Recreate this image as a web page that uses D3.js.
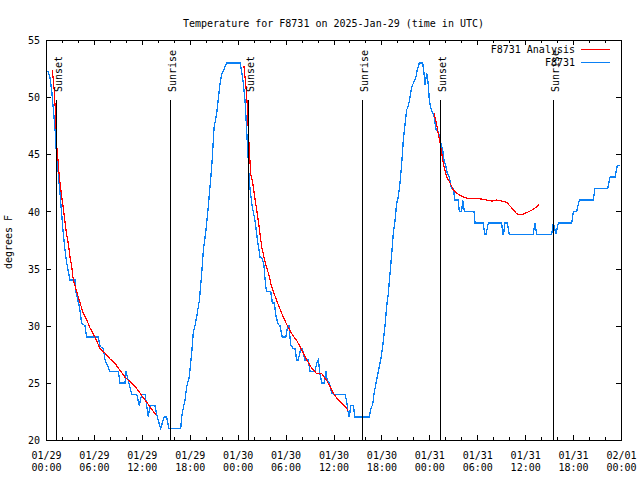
<!DOCTYPE html>
<html><head><meta charset="utf-8">
<script src="https://cdn.jsdelivr.net/npm/d3@7/dist/d3.min.js"></script>
<style>
body{margin:0;background:#fff}
svg{display:block;background:#fff}
text{font-family:"DejaVu Sans Mono",monospace;font-size:10px;fill:#000}
</style></head><body>
<svg id="c" width="640" height="480"></svg>
<script>
// ---------------- data ----------------
const chartTitle = "Temperature for F8731 on 2025-Jan-29 (time in UTC)";
const yAxisTitle = "degrees F";
const seriesNames = ["F8731 Analysis", "F8731"];
const startUTC = Date.UTC(2025, 0, 29, 0, 0);   // hours below are offsets from this
const endUTC = Date.UTC(2025, 1, 1, 0, 0);
const yDomain = [20, 55];
const yTickValues = [20, 25, 30, 35, 40, 45, 50, 55];
const xMajorStepHours = 6;
const xMinorStepHours = 2;

const eventNames = ["Sunset", "Sunrise", "Sunset", "Sunrise", "Sunset", "Sunrise"];
const eventHours = [1.25, 15.53, 25.33, 39.61, 49.34, 63.52];

// observed temperature (F8731)
const obsHours = [0.25,0.50,0.71,1.00,1.13,1.25,1.54,1.75,2.17,2.38,2.59,3.01,3.63,3.72,4.17,4.47,4.88,5.10,6.55,6.76,
7.18,7.39,8.01,9.05,9.27,9.89,10.02,10.31,10.73,11.36,11.68,11.98,12.40,12.81,13.02,13.65,13.94,14.36,14.78,15.11,
15.40,16.87,16.99,17.19,17.41,17.62,17.94,18.24,18.44,18.66,18.87,19.20,19.50,19.70,20.04,20.32,20.54,20.75,20.95,21.04,
21.38,21.58,21.79,22.00,22.20,22.63,24.29,24.51,24.71,24.92,25.04,25.21,25.33,25.46,25.80,26.17,26.48,26.80,27.09,27.30,
27.51,27.64,28.14,28.34,28.59,28.80,29.09,29.30,29.59,30.02,30.27,30.43,30.64,30.97,31.18,31.39,31.59,31.89,32.06,32.22,
32.43,32.85,33.06,33.68,33.90,34.10,34.31,34.52,34.81,35.06,35.22,35.47,35.78,35.98,37.44,37.65,37.78,37.98,38.15,38.48,
38.69,40.48,40.70,40.91,41.07,41.32,41.61,41.91,42.16,42.45,42.66,42.86,43.08,43.29,43.49,43.70,43.91,44.12,44.33,44.54,
44.74,44.95,45.16,45.37,45.58,45.79,45.99,46.33,46.49,46.75,47.17,47.33,47.46,47.67,47.87,48.00,48.21,48.59,48.84,49.12,
49.34,49.67,49.84,50.09,50.25,50.50,50.68,50.80,51.00,51.21,51.63,51.75,52.05,52.18,52.38,53.59,53.72,54.72,54.97,55.10,
55.39,57.06,57.19,57.29,57.48,57.76,58.01,61.02,61.23,61.44,63.32,63.52,63.86,64.15,65.83,66.03,66.45,66.78,68.53,68.74,
70.34,70.63,71.25,71.54,71.88];
const obsTemps = [52.3,51.7,50.6,48.3,47.3,45.7,43.3,41.6,38,36.6,35.5,34,34,33,31.7,30.2,30,29,29,28.2,
28,27,26,26,25,25,26,25.2,24,24,23,24,24,22,23,23,22,21,22,22,
21,21,22,22.8,23.5,24.7,25.5,27.6,29.4,30,30.8,32.2,34.6,36.6,38.4,40.4,42.2,43.9,46.2,47.3,
48.6,49.9,51.2,52,52.3,53,53,52.2,51.2,49.7,48.3,46,44.5,42.5,40.5,39.2,37.5,36,35.9,35.2,
33.4,33,33,32,32,30.8,30.1,30,29,29,30,30,28.3,28,28,27,27,28,28,27.6,
27,27,26,26,26.7,27,25.8,25,25,26,25.2,25,24.1,24,24,23.4,22.6,22,23,23,
22,22,22.8,23.1,24,25,26,27,28.2,30,31.7,32.8,34.6,36.3,38.1,39.2,40.7,41.3,42.5,44.2,
46.2,47.6,48.9,49.2,50,50.9,51.2,51.8,52.4,53,53,52.1,51.1,52.1,51.1,49.7,49,48.3,47.2,47,
46.2,45.4,44.5,43.9,43.3,43,42.3,42,42,41,41,40,40,41,40,40,39,39,38,38,
39,39,38,38,39,39,38,38,39,38,38,39,38,39,39,40,40,41,41,42,
42,43,43,44,44];

// analysis (F8731 Analysis) - null marks a gap between runs
const anaHours = [0.79,1.04,1.21,1.34,1.47,1.67,1.97,2.25,2.54,2.79,3.01,3.22,3.42,3.84,4.26,4.67,5.10,5.51,6.14,6.76,
7.39,8.01,8.64,9.27,9.89,10.52,11.14,11.77,12.40,13.02,13.44,13.77,
18.0,
24.79,25.04,25.21,25.33,25.46,25.63,25.88,26.17,26.58,27.01,27.42,27.84,28.26,28.89,29.51,30.14,30.77,31.39,32.02,32.64,
33.27,33.90,34.52,35.15,35.56,35.98,36.60,37.23,37.82,
43.0,
48.59,48.92,49.12,49.34,49.55,49.75,49.96,50.18,50.59,51.00,51.43,51.84,52.47,53.09,53.72,54.35,55.18,55.81,56.44,57.06,
57.69,58.32,58.94,59.57,60.19,60.82,61.44,61.77];
const anaTemps = [52.4,50.5,48.3,45.7,44.8,43,41.3,39.8,38.2,37.2,36,35.2,34,33,32,31.1,30.5,29.8,29,28,
27.6,27.1,26.7,26.1,25.5,25.1,24.7,24.1,23.5,22.9,22.5,22.2,
null,
52.7,50.9,49.2,47.1,45.4,43.3,42.5,41.1,39.2,36.9,35.6,34.6,33.4,32.2,31.1,30.1,29.3,28.7,27.9,27,
26.3,25.8,25.8,25.2,24.7,24.1,23.5,23.1,22.6,
null,
48.6,47.6,46.8,46,45.1,44.2,43.6,43,42.5,41.9,41.6,41.4,41.2,41.1,41.1,41.1,41,40.9,41,40.9,
40.8,40.3,39.8,39.7,39.9,40.1,40.4,40.6];

// ---------------- drawing ----------------
const colors = { ana: "#ff0000", obs: "#0a80f5" };
const L = 46, R = 621, T = 40, B = 440;
const svg = d3.select("#c");
const hourToDate = h => new Date(startUTC + h * 3600000);

const x = d3.scaleUtc().domain([new Date(startUTC), new Date(endUTC)]).range([L, R]);
const y = d3.scaleLinear().domain(yDomain).range([B, T]);

const majorTicks = d3.utcHour.every(xMajorStepHours).range(new Date(startUTC), new Date(endUTC + 1));
const minorTicks = d3.utcHour.every(xMinorStepHours).range(new Date(startUTC), new Date(endUTC + 1))
  .filter(d => d.getUTCHours() % xMajorStepHours !== 0);

// data lines
const line = d3.line().defined(d => d[1] !== null).x(d => x(hourToDate(d[0]))).y(d => y(d[1]));
const obs = obsHours.map((h, i) => [h, obsTemps[i]]);
const ana = anaHours.map((h, i) => [h, anaTemps[i]]);
svg.append("path").attr("d", line(obs)).attr("fill", "none").attr("stroke", colors.obs)
  .attr("stroke-width", 1.3).attr("shape-rendering", "crispEdges");
svg.append("path").attr("d", line(ana)).attr("fill", "none").attr("stroke", colors.ana)
  .attr("stroke-width", 1.2).attr("shape-rendering", "crispEdges");

// sunrise / sunset markers
const ev = svg.append("g");
eventHours.forEach((h, i) => {
  const xe = Math.round(x(hourToDate(h))) + 0.5;
  ev.append("line").attr("x1", xe).attr("x2", xe).attr("y1", B).attr("y2", y(yDomain[0] + 0.85 * (yDomain[1] - yDomain[0])))
    .attr("stroke", "#000").attr("stroke-width", 1).attr("shape-rendering", "crispEdges");
  ev.append("text").attr("transform", `translate(${xe + 5.5},92) rotate(-90)`).attr("text-anchor", "start").text(eventNames[i]);
});

// axes (ticks pointing inward, mirrored)
const crisp = g => g.attr("shape-rendering", "crispEdges");
const bottom = svg.append("g").attr("transform", `translate(0,${B})`)
  .call(d3.axisBottom(x).tickValues(majorTicks).tickSize(-5).tickFormat("")).call(crisp);
svg.append("g").attr("transform", `translate(0,${B})`)
  .call(d3.axisBottom(x).tickValues(minorTicks).tickSize(-3).tickFormat("")).call(crisp);
svg.append("g").attr("transform", `translate(0,${T})`)
  .call(d3.axisTop(x).tickValues(majorTicks).tickSize(-5).tickFormat("")).call(crisp);
svg.append("g").attr("transform", `translate(0,${T})`)
  .call(d3.axisTop(x).tickValues(minorTicks).tickSize(-3).tickFormat("")).call(crisp);
const left = svg.append("g").attr("transform", `translate(${L},0)`)
  .call(d3.axisLeft(y).tickValues(yTickValues).tickSize(-5).tickFormat("")).call(crisp);
svg.append("g").attr("transform", `translate(${R},0)`)
  .call(d3.axisRight(y).tickValues(yTickValues).tickSize(-5).tickFormat("")).call(crisp);
svg.selectAll(".domain").remove();
svg.selectAll(".tick line").attr("stroke", "#000");

const fmtDay = d3.utcFormat("%m/%d"), fmtTime = d3.utcFormat("%H:%M");
bottom.selectAll(".tick").each(function(d) {
  const t = d3.select(this).append("text").attr("text-anchor", "middle").style("fill", "#000");
  t.append("tspan").attr("x", 0).attr("y", 18.5).text(fmtDay(d));
  t.append("tspan").attr("x", 0).attr("y", 31).text(fmtTime(d));
});
left.selectAll(".tick").append("text").attr("x", -6).attr("y", 3.6).attr("text-anchor", "end")
  .style("fill", "#000").text(d => d);

// border
svg.append("rect").attr("x", L + 0.5).attr("y", T + 0.5).attr("width", R - L).attr("height", B - T)
  .attr("fill", "none").attr("stroke", "#000").attr("shape-rendering", "crispEdges");

// titles
svg.append("text").attr("x", (L + R) / 2).attr("y", 27).attr("text-anchor", "middle").text(chartTitle);
svg.append("text").attr("transform", `translate(12,${(T + B) / 2 + 2}) rotate(-90)`).attr("text-anchor", "middle").text(yAxisTitle);

// legend
const legColors = [colors.ana, colors.obs];
seriesNames.forEach((name, i) => {
  const ly = 49.5 + i * 13;
  svg.append("text").attr("x", 575).attr("y", ly + 3.6).attr("text-anchor", "end").text(name);
  svg.append("line").attr("x1", 581).attr("x2", 610).attr("y1", ly).attr("y2", ly)
    .attr("stroke", legColors[i]).attr("stroke-width", 1).attr("shape-rendering", "crispEdges");
});
</script>
</body></html>
